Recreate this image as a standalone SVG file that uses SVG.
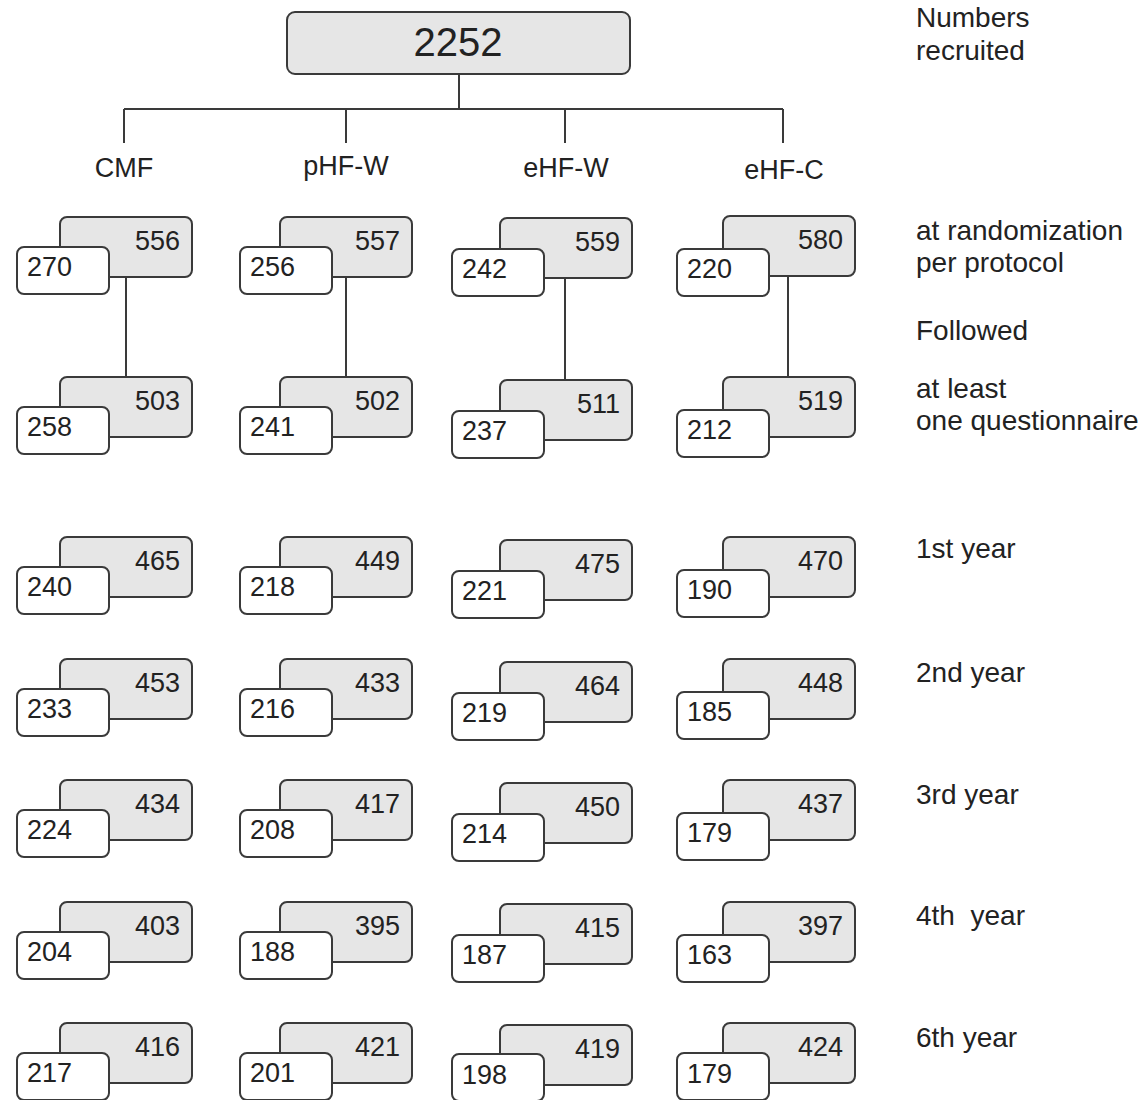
<svg xmlns="http://www.w3.org/2000/svg" width="1145" height="1100" viewBox="0 0 1145 1100">
<style>
text{font-family:"Liberation Sans",Arial,sans-serif;fill:#222}
.g{fill:#e6e6e6;stroke:#3a3a3a;stroke-width:2}
.w{fill:#fff;stroke:#3a3a3a;stroke-width:2}
.n{font-size:27px}
.r{text-anchor:end}
.c{text-anchor:middle;font-size:27px}
.lab{font-size:28px}
.big{font-size:40px;text-anchor:middle}
.con{fill:none;stroke:#3a3a3a;stroke-width:2}
</style>
<rect width="1145" height="1100" fill="#fff"/>
<g id="connectors">
<path class="con" d="M459 74V109M124 109H783M124 109V143M346 109V143M565 109V143M783 109V143"/>
<path class="con" d="M126 277V377M346 277V377M565 278V380M788 276V377"/>
</g>
<g id="top"><rect class="g" x="287" y="12" width="343" height="62" rx="8"/><text class="big" x="458" y="56">2252</text></g>
<g id="groups">
<text class="c" x="124" y="177">CMF</text>
<text class="c" x="346" y="175">pHF-W</text>
<text class="c" x="566" y="177">eHF-W</text>
<text class="c" x="784" y="179">eHF-C</text>
</g>
<g id="side-labels">
<text class="lab" x="916" y="27">Numbers</text>
<text class="lab" x="916" y="60">recruited</text>
<text class="lab" x="916" y="240">at randomization</text>
<text class="lab" x="916" y="272">per protocol</text>
<text class="lab" x="916" y="340">Followed</text>
<text class="lab" x="916" y="398">at least</text>
<text class="lab" x="916" y="430">one questionnaire</text>
<text class="lab" x="916" y="558">1st year</text>
<text class="lab" x="916" y="682">2nd year</text>
<text class="lab" x="916" y="804">3rd year</text>
<text class="lab" x="916" y="925" xml:space="preserve">4th  year</text>
<text class="lab" x="916" y="1047">6th year</text>
</g>
<g id="cmf">
<g id="cmf-1"><rect class="g" x="60" y="217" width="132" height="60" rx="7"/><rect class="w" x="17" y="247" width="92" height="47" rx="7"/><text class="n r" x="180" y="250">556</text><text class="n" x="27" y="276">270</text></g>
<g id="cmf-2"><rect class="g" x="60" y="377" width="132" height="60" rx="7"/><rect class="w" x="17" y="407" width="92" height="47" rx="7"/><text class="n r" x="180" y="410">503</text><text class="n" x="27" y="436">258</text></g>
<g id="cmf-3"><rect class="g" x="60" y="537" width="132" height="60" rx="7"/><rect class="w" x="17" y="567" width="92" height="47" rx="7"/><text class="n r" x="180" y="570">465</text><text class="n" x="27" y="596">240</text></g>
<g id="cmf-4"><rect class="g" x="60" y="659" width="132" height="60" rx="7"/><rect class="w" x="17" y="689" width="92" height="47" rx="7"/><text class="n r" x="180" y="692">453</text><text class="n" x="27" y="718">233</text></g>
<g id="cmf-5"><rect class="g" x="60" y="780" width="132" height="60" rx="7"/><rect class="w" x="17" y="810" width="92" height="47" rx="7"/><text class="n r" x="180" y="813">434</text><text class="n" x="27" y="839">224</text></g>
<g id="cmf-6"><rect class="g" x="60" y="902" width="132" height="60" rx="7"/><rect class="w" x="17" y="932" width="92" height="47" rx="7"/><text class="n r" x="180" y="935">403</text><text class="n" x="27" y="961">204</text></g>
<g id="cmf-7"><rect class="g" x="60" y="1023" width="132" height="60" rx="7"/><rect class="w" x="17" y="1053" width="92" height="47" rx="7"/><text class="n r" x="180" y="1056">416</text><text class="n" x="27" y="1082">217</text></g>
</g>
<g id="phfw">
<g id="phfw-1"><rect class="g" x="280" y="217" width="132" height="60" rx="7"/><rect class="w" x="240" y="247" width="92" height="47" rx="7"/><text class="n r" x="400" y="250">557</text><text class="n" x="250" y="276">256</text></g>
<g id="phfw-2"><rect class="g" x="280" y="377" width="132" height="60" rx="7"/><rect class="w" x="240" y="407" width="92" height="47" rx="7"/><text class="n r" x="400" y="410">502</text><text class="n" x="250" y="436">241</text></g>
<g id="phfw-3"><rect class="g" x="280" y="537" width="132" height="60" rx="7"/><rect class="w" x="240" y="567" width="92" height="47" rx="7"/><text class="n r" x="400" y="570">449</text><text class="n" x="250" y="596">218</text></g>
<g id="phfw-4"><rect class="g" x="280" y="659" width="132" height="60" rx="7"/><rect class="w" x="240" y="689" width="92" height="47" rx="7"/><text class="n r" x="400" y="692">433</text><text class="n" x="250" y="718">216</text></g>
<g id="phfw-5"><rect class="g" x="280" y="780" width="132" height="60" rx="7"/><rect class="w" x="240" y="810" width="92" height="47" rx="7"/><text class="n r" x="400" y="813">417</text><text class="n" x="250" y="839">208</text></g>
<g id="phfw-6"><rect class="g" x="280" y="902" width="132" height="60" rx="7"/><rect class="w" x="240" y="932" width="92" height="47" rx="7"/><text class="n r" x="400" y="935">395</text><text class="n" x="250" y="961">188</text></g>
<g id="phfw-7"><rect class="g" x="280" y="1023" width="132" height="60" rx="7"/><rect class="w" x="240" y="1053" width="92" height="47" rx="7"/><text class="n r" x="400" y="1056">421</text><text class="n" x="250" y="1082">201</text></g>
</g>
<g id="ehfw">
<g id="ehfw-1"><rect class="g" x="500" y="218" width="132" height="60" rx="7"/><rect class="w" x="452" y="249" width="92" height="47" rx="7"/><text class="n r" x="620" y="251">559</text><text class="n" x="462" y="278">242</text></g>
<g id="ehfw-2"><rect class="g" x="500" y="380" width="132" height="60" rx="7"/><rect class="w" x="452" y="411" width="92" height="47" rx="7"/><text class="n r" x="620" y="413">511</text><text class="n" x="462" y="440">237</text></g>
<g id="ehfw-3"><rect class="g" x="500" y="540" width="132" height="60" rx="7"/><rect class="w" x="452" y="571" width="92" height="47" rx="7"/><text class="n r" x="620" y="573">475</text><text class="n" x="462" y="600">221</text></g>
<g id="ehfw-4"><rect class="g" x="500" y="662" width="132" height="60" rx="7"/><rect class="w" x="452" y="693" width="92" height="47" rx="7"/><text class="n r" x="620" y="695">464</text><text class="n" x="462" y="722">219</text></g>
<g id="ehfw-5"><rect class="g" x="500" y="783" width="132" height="60" rx="7"/><rect class="w" x="452" y="814" width="92" height="47" rx="7"/><text class="n r" x="620" y="816">450</text><text class="n" x="462" y="843">214</text></g>
<g id="ehfw-6"><rect class="g" x="500" y="904" width="132" height="60" rx="7"/><rect class="w" x="452" y="935" width="92" height="47" rx="7"/><text class="n r" x="620" y="937">415</text><text class="n" x="462" y="964">187</text></g>
<g id="ehfw-7"><rect class="g" x="500" y="1025" width="132" height="60" rx="7"/><rect class="w" x="452" y="1054" width="92" height="47" rx="7"/><text class="n r" x="620" y="1058">419</text><text class="n" x="462" y="1084">198</text></g>
</g>
<g id="ehfc">
<g id="ehfc-1"><rect class="g" x="723" y="216" width="132" height="60" rx="7"/><rect class="w" x="677" y="249" width="92" height="47" rx="7"/><text class="n r" x="843" y="249">580</text><text class="n" x="687" y="278">220</text></g>
<g id="ehfc-2"><rect class="g" x="723" y="377" width="132" height="60" rx="7"/><rect class="w" x="677" y="410" width="92" height="47" rx="7"/><text class="n r" x="843" y="410">519</text><text class="n" x="687" y="439">212</text></g>
<g id="ehfc-3"><rect class="g" x="723" y="537" width="132" height="60" rx="7"/><rect class="w" x="677" y="570" width="92" height="47" rx="7"/><text class="n r" x="843" y="570">470</text><text class="n" x="687" y="599">190</text></g>
<g id="ehfc-4"><rect class="g" x="723" y="659" width="132" height="60" rx="7"/><rect class="w" x="677" y="692" width="92" height="47" rx="7"/><text class="n r" x="843" y="692">448</text><text class="n" x="687" y="721">185</text></g>
<g id="ehfc-5"><rect class="g" x="723" y="780" width="132" height="60" rx="7"/><rect class="w" x="677" y="813" width="92" height="47" rx="7"/><text class="n r" x="843" y="813">437</text><text class="n" x="687" y="842">179</text></g>
<g id="ehfc-6"><rect class="g" x="723" y="902" width="132" height="60" rx="7"/><rect class="w" x="677" y="935" width="92" height="47" rx="7"/><text class="n r" x="843" y="935">397</text><text class="n" x="687" y="964">163</text></g>
<g id="ehfc-7"><rect class="g" x="723" y="1023" width="132" height="60" rx="7"/><rect class="w" x="677" y="1053" width="92" height="47" rx="7"/><text class="n r" x="843" y="1056">424</text><text class="n" x="687" y="1083">179</text></g>
</g>
</svg>
